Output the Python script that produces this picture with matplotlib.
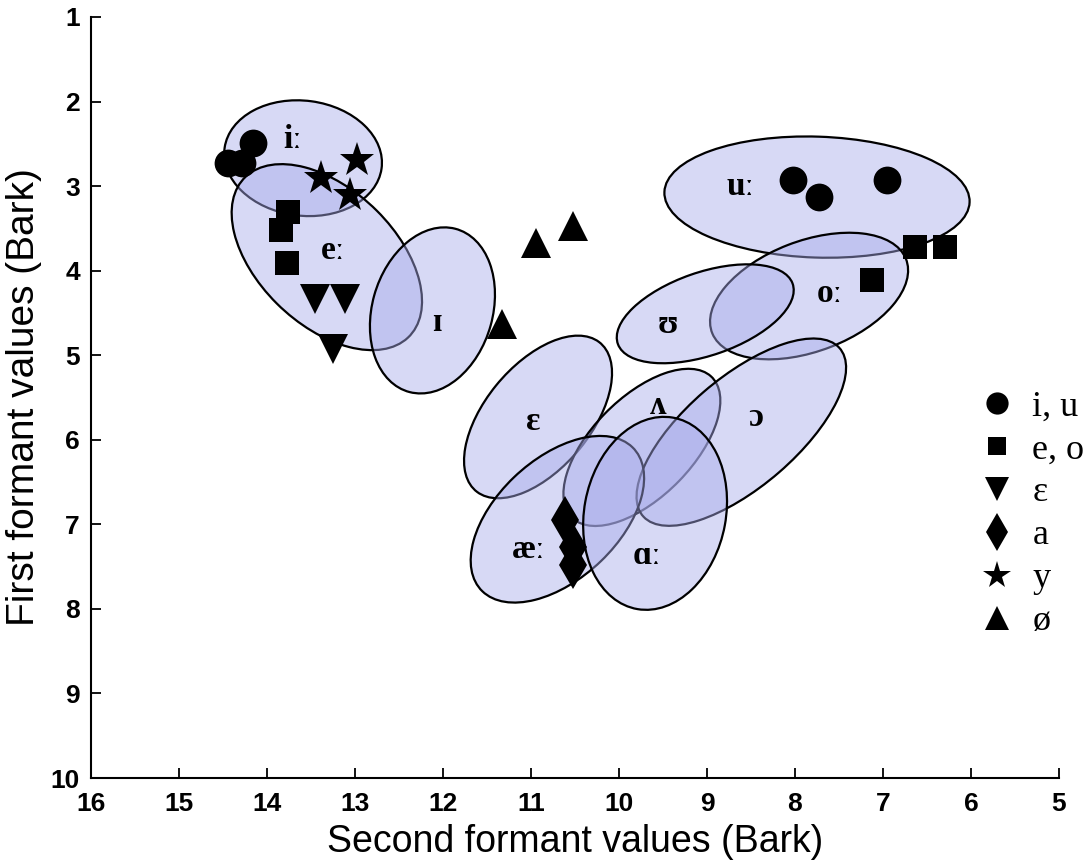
import matplotlib
matplotlib.use("Agg")
import matplotlib.pyplot as plt
from matplotlib.patches import Ellipse
from matplotlib.lines import Line2D

# Vowel category spreads (F2, F1 in Bark): centre, axis lengths, tilt
vowel_labels = ["iː", "eː", "ɪ", "uː", "oː", "ʊ", "ɛ", "ʌ", "ɔ", "æː", "ɑː"]
vowel_f2 = [13.59, 13.32, 12.12, 7.75, 7.84, 9.02, 10.92, 9.74, 8.61, 10.70, 9.59]
vowel_f1 = [2.67, 3.84, 4.47, 3.13, 4.30, 4.51, 5.73, 6.09, 5.91, 6.94, 6.87]
spread_major = [1.80, 2.65, 2.00, 3.47, 2.37, 2.11, 2.25, 2.30, 2.99, 2.41, 2.30]
spread_minor = [1.36, 1.58, 1.37, 1.43, 1.30, 0.98, 1.21, 1.16, 1.28, 1.40, 1.61]
spread_angle = [-8, -46, 75, -2, 22, 20, 52, 47, 42, 45, 80]
label_f2 = [13.71, 13.25, 12.07, 8.62, 7.61, 9.44, 10.98, 9.55, 8.45, 11.03, 9.68]
label_f1 = [2.45, 3.76, 4.61, 3.00, 4.27, 4.64, 5.78, 5.59, 5.74, 7.30, 7.37]

# Individual vowel tokens by group
iu_f2 = [14.44, 14.28, 14.16, 8.02, 7.73, 6.95]
iu_f1 = [2.73, 2.73, 2.49, 2.93, 3.13, 2.93]
eo_f2 = [13.76, 13.84, 13.77, 6.64, 6.30, 7.12]
eo_f1 = [3.31, 3.52, 3.91, 3.72, 3.72, 4.11]
eps_f2 = [13.45, 13.11, 13.25]
eps_f1 = [4.33, 4.33, 4.93]
a_f2 = [10.61, 10.52, 10.52]
a_f1 = [6.95, 7.27, 7.48]
y_f2 = [12.98, 13.39, 13.06]
y_f1 = [2.69, 2.90, 3.10]
oe_f2 = [10.52, 10.94, 11.33]
oe_f1 = [3.47, 3.67, 4.63]

legend_labels = ["i, u", "e, o", "ɛ", "a", "y", "ø"]
x_ticks = list(range(16, 4, -1))
y_ticks = list(range(1, 11))

fig = plt.figure(figsize=(10.89, 8.61), dpi=100)
ax = fig.add_axes([91 / 1089, 83 / 861, 968 / 1089, 761 / 861])

fill = (0.66, 0.67, 0.92, 0.45)
for cx, cy, w, h, a in zip(vowel_f2, vowel_f1, spread_major, spread_minor, spread_angle):
    ax.add_patch(Ellipse((cx, cy), w, h, angle=a, facecolor=fill,
                         edgecolor="black", linewidth=1.6, zorder=2))

serif = ["Liberation Serif", "DejaVu Serif"]
for lab, lx, ly in zip(vowel_labels, label_f2, label_f1):
    ax.text(lx, ly, lab, ha="center", va="center", fontsize=24,
            fontweight="bold", family=serif, zorder=5)

groups = [
    (iu_f2, iu_f1, "o", 20),
    (eo_f2, eo_f1, "s", 17),
    (eps_f2, eps_f1, "v", 21),
    (a_f2, a_f1, "d", 24),
    (y_f2, y_f1, "*", 26),
    (oe_f2, oe_f1, "^", 21),
]
handles = []
for (gx, gy, m, s) in groups:
    ax.plot(gx, gy, linestyle="none", marker=m, markersize=s, color="black",
            markeredgewidth=0, zorder=4)
    handles.append(Line2D([], [], linestyle="none", marker=m, markersize=s * 0.8,
                          color="black", markeredgewidth=0))

ax.set_xlim(16, 5)
ax.set_ylim(10, 1)
ax.set_xticks(x_ticks)
ax.set_yticks(y_ticks)
for sp in ("top", "right"):
    ax.spines[sp].set_visible(False)
for sp in ("left", "bottom"):
    ax.spines[sp].set_linewidth(1.5)
ax.tick_params(direction="in", length=7, width=1.3, labelsize=19)
ax.tick_params(axis="x", pad=10)
ax.tick_params(axis="y", pad=8)
for t in ax.get_xticklabels() + ax.get_yticklabels():
    t.set_fontweight("bold")
    t.set_family("Liberation Sans")

ax.set_xlabel("Second formant values (Bark)", fontsize=27, family="Liberation Sans", labelpad=6)
ax.set_ylabel("First formant values (Bark)", fontsize=28, family="Liberation Sans", labelpad=6)

leg = ax.legend(handles, legend_labels, loc="upper left",
                bbox_to_anchor=(983 / 1089, 1 - 390 / 861), bbox_transform=fig.transFigure,
                frameon=False, handlelength=0.75, handletextpad=0.62, labelspacing=0.27,
                borderpad=0, borderaxespad=0, prop={"family": serif, "size": 26})

fig.savefig("out.png", dpi=100)
